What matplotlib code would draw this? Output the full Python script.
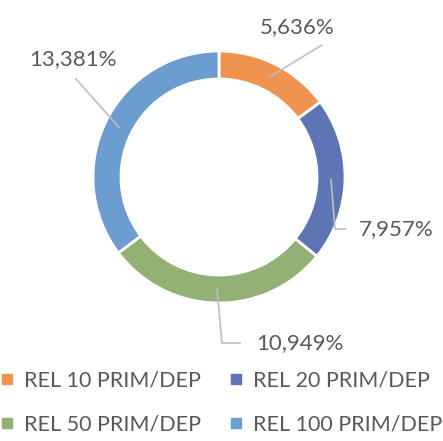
import numpy as np
import matplotlib
matplotlib.use("Agg")
import matplotlib.pyplot as plt
from matplotlib.lines import Line2D

labels = ["REL 10 PRIM/DEP", "REL 20 PRIM/DEP", "REL 50 PRIM/DEP", "REL 100 PRIM/DEP"]
values = [5.636, 7.957, 10.949, 13.381]
value_texts = ["5,636%", "7,957%", "10,949%", "13,381%"]
colors = ["#F0934F", "#5D75B4", "#93B174", "#6B9DD1"]

plt.rcParams["font.family"] = ["Lato", "DejaVu Sans"]
text_color = "#595959"
line_color = "#BFBFBF"

W, H = 443, 441
fig = plt.figure(figsize=(W / 100, H / 100), dpi=100)
ax = fig.add_axes([0, 0, 1, 1])

cx, cy = 219, H - 177
r_out, width = 126, 28
ax.pie(values, colors=colors, startangle=90, counterclock=False,
       center=(cx, cy), radius=r_out, frame=True,
       wedgeprops=dict(width=width, edgecolor="white", linewidth=2))
ax.set_xlim(0, W)
ax.set_ylim(0, H)
ax.set_aspect("equal")
ax.axis("off")

# leader anchors at middle of each wedge
frac = np.array(values) / sum(values)
mids = (np.cumsum(frac) - frac / 2) * 2 * np.pi
r_mid = r_out - width / 2
anchors = [(cx + r_mid * np.sin(a), cy + r_mid * np.cos(a)) for a in mids]

# label layout in pixels (x, y from top), elbow points for leader lines
label_pos = [(297, 27), (396, 229), (300, 343), (73, 59)]
elbows = [None, (335, 229), (222, 343), None]
ends = [(322, 45), (346, 229), (240, 343), (76, 79)]

for (ax0, ay0), elb, (ex, ey), (lx, ly), t in zip(anchors, elbows, ends, label_pos, value_texts):
    xs, ys = [ax0], [ay0]
    if elb is not None:
        xs.append(elb[0]); ys.append(H - elb[1])
    xs.append(ex); ys.append(H - ey)
    ax.plot(xs, ys, color=line_color, lw=1.2)
    ax.text(lx, H - ly, t, ha="center", va="center", fontsize=16, color=text_color)

# row-major legend order
order = [0, 2, 1, 3]
handles = [Line2D([], [], marker="s", ls="", color=colors[i], markersize=7) for i in order]
fig.legend(handles, [labels[i] for i in order], loc="lower center",
           bbox_to_anchor=(0.5, 0.0), ncol=2, frameon=False, fontsize=15.5,
           labelcolor=text_color, handlelength=0.6, handletextpad=0.5,
           columnspacing=1.3, labelspacing=1.1, borderaxespad=0.0, borderpad=0.3)

fig.savefig("out.png", dpi=100)
